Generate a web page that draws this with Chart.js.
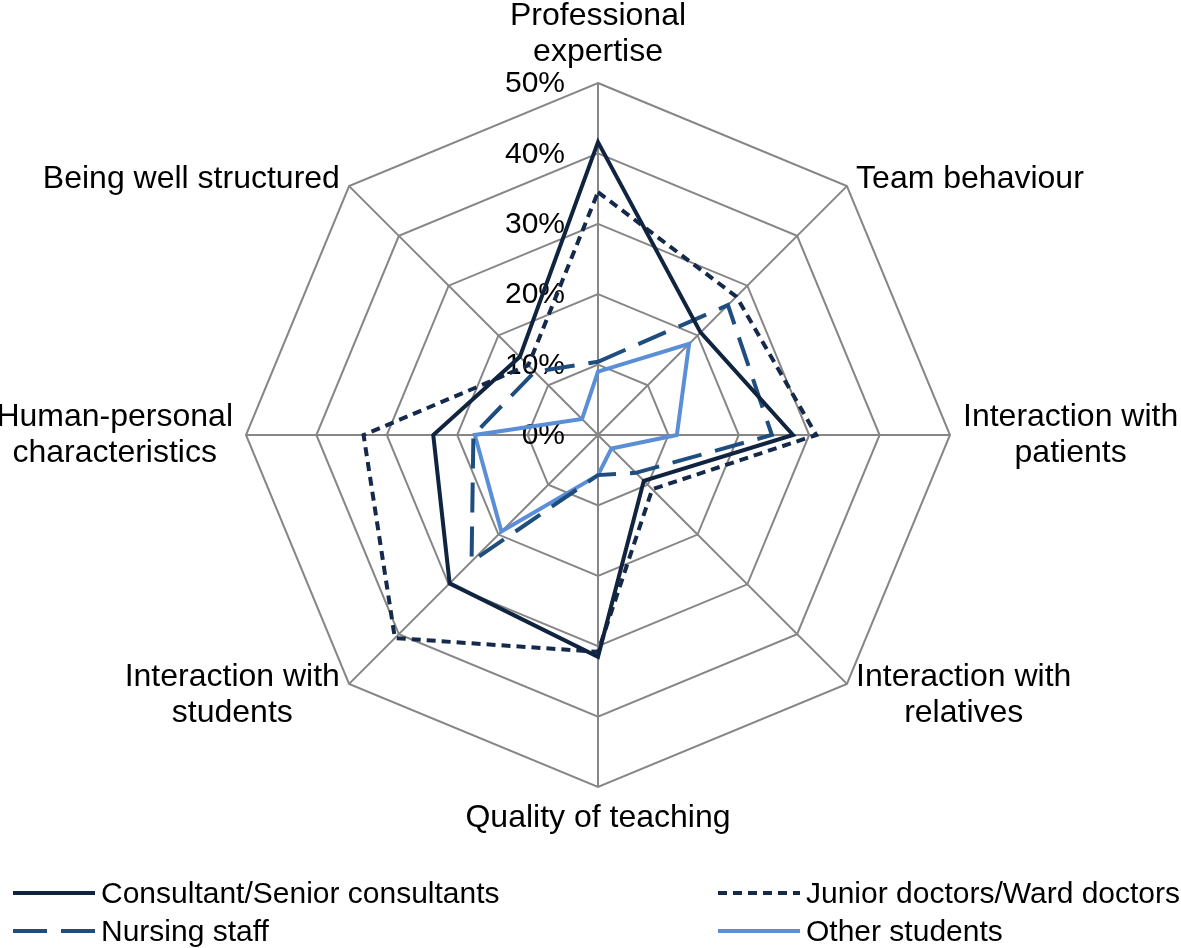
<!DOCTYPE html>
<html>
<head>
<meta charset="utf-8">
<script src="https://cdn.jsdelivr.net/npm/chart.js@4"></script>
<style>
  body { margin: 0; background: #fff; }
  canvas { display: block; }
</style>
</head>
<body>
<canvas id="myChart" width="1181" height="948"></canvas>
<script>
// categories, clockwise from the top
const categories = [
    ['Professional', 'expertise'],
    ['Team behaviour'],
    ['Interaction with', 'patients'],
    ['Interaction with', 'relatives'],
    ['Quality of teaching'],
    ['Interaction with', 'students'],
    ['Human-personal', 'characteristics'],
    ['Being well structured']
]
const seriesNames = ['Consultant/Senior consultants', 'Junior doctors/Ward doctors', 'Nursing staff', 'Other students']
// values in percent
const consultants = [41.6, 20.6, 27.7, 9.2, 31.5, 29.8, 23.4, 15.7]
const juniorDoctors = [34.5, 27.8, 31.0, 10.9, 30.8, 40.8, 33.3, 14.0]
const nursingStaff = [10.4, 26.1, 24.7, 7.6, 5.7, 25.4, 17.7, 12.7]
const otherStudents = [9.0, 18.3, 11.2, 2.7, 5.7, 19.4, 17.5, 3.2]
const tickValues = [0, 10, 20, 30, 40, 50]

const FONT = '"Liberation Sans", Arial, sans-serif'

function line(label, values, color, dash) {
    return {
        label: label,
        data: values,
        borderColor: color,
        backgroundColor: color,
        borderWidth: 4,
        borderDash: dash,
        pointRadius: 0,
        fill: false,
        tension: 0
    }
}

const data = {
    labels: categories,
    datasets: [
        line(seriesNames[0], consultants, '#10243f', []),
        line(seriesNames[1], juniorDoctors, '#15294a', [9, 6]),
        line(seriesNames[2], nursingStaff, '#1f4d7e', [30, 14]),
        line(seriesNames[3], otherStudents, '#5a8ed6', [])
    ]
}

// point labels and tick labels drawn next to the axes like the original
const radarText = {
    id: 'radarText',
    beforeDatasetsDraw(chart) {
        const ctx = chart.ctx
        const scale = chart.scales.r
        ctx.save()
        ctx.fillStyle = '#000'
        // ticks, left of the vertical axis
        ctx.font = '30px ' + FONT
        ctx.textAlign = 'right'
        ctx.textBaseline = 'middle'
        tickValues.forEach(v => {
            const d = scale.getDistanceFromCenterForValue(v)
            ctx.fillText(v + '%', scale.xCenter - 33, scale.yCenter - d + 1)
        })
        // category labels
        ctx.font = '32px ' + FONT
        ctx.textAlign = 'center'
        const lh = 36
        categories.forEach((lines, i) => {
            const p = scale.getPointPosition(i, scale.drawingArea + 13)
            const w = Math.max(...lines.map(t => ctx.measureText(t).width))
            const h = lines.length * lh
            const dx = p.x - scale.xCenter
            const dy = p.y - scale.yCenter
            let cx = p.x
            let top = p.y - h / 2
            if (dx > 5) cx = p.x + w / 2
            else if (dx < -5) cx = p.x - w / 2
            if (Math.abs(dx) <= 5) top = dy < 0 ? p.y - h : p.y
            else if (Math.abs(dy) > 5) top = p.y - h / 2 + 2
            lines.forEach((t, k) => ctx.fillText(t, cx, top + lh / 2 + k * lh))
        })
        ctx.restore()
    }
}

// legend in two columns at the bottom
const bottomLegend = {
    id: 'bottomLegend',
    afterDraw(chart) {
        const ctx = chart.ctx
        const spots = [
            { x: 13, y: 893 },
            { x: 718, y: 893 },
            { x: 13, y: 931 },
            { x: 718, y: 931 }
        ]
        ctx.save()
        ctx.font = '30px ' + FONT
        ctx.textAlign = 'left'
        ctx.textBaseline = 'middle'
        chart.data.datasets.forEach((ds, i) => {
            const s = spots[i]
            ctx.strokeStyle = ds.borderColor
            ctx.lineWidth = 4
            ctx.setLineDash(i === 2 ? [34, 14] : ds.borderDash)
            ctx.beginPath()
            ctx.moveTo(s.x, s.y)
            ctx.lineTo(s.x + 82, s.y)
            ctx.stroke()
            ctx.setLineDash([])
            ctx.fillStyle = '#000'
            ctx.fillText(ds.label, s.x + 88, s.y + 2)
        })
        ctx.restore()
    }
}

const config = {
    type: 'radar',
    data: data,
    options: {
        responsive: false,
        animation: false,
        devicePixelRatio: 1,
        layout: {
            padding: { left: 246, right: 231, top: 83, bottom: 161 }
        },
        plugins: {
            legend: { display: false },
            tooltip: { enabled: false }
        },
        scales: {
            r: {
                min: 0,
                max: 50,
                ticks: { display: false, stepSize: 10 },
                grid: { color: '#868686', lineWidth: 2 },
                angleLines: { color: '#868686', lineWidth: 2 },
                pointLabels: { display: false }
            }
        }
    },
    plugins: [radarText, bottomLegend]
}

const ctx = document.getElementById('myChart').getContext('2d')
new Chart(ctx, config)
</script>
</body>
</html>
